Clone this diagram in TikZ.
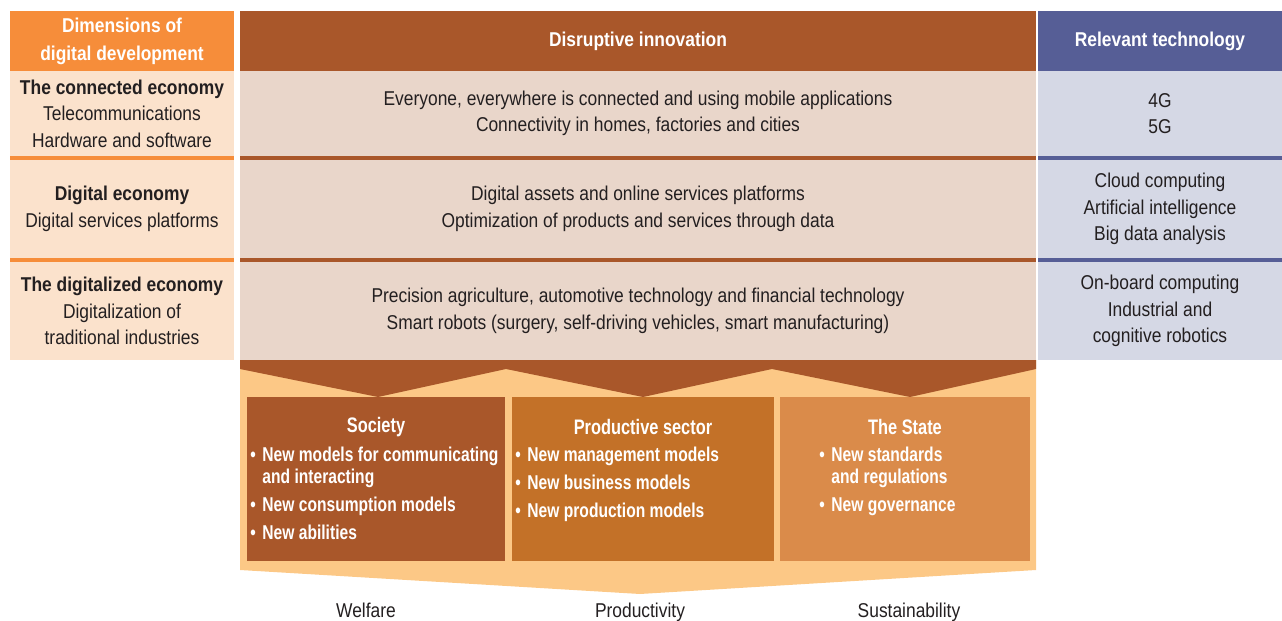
\documentclass[tikz,border=0pt]{standalone}
\usepackage{fontspec}
\setmainfont{Liberation Sans}[FakeStretch=0.87]
\newfontfamily\condfont{Liberation Sans}[FakeStretch=0.78]
\usetikzlibrary{positioning}
\definecolor{dimorange}{HTML}{F68D3A}
\definecolor{dimpale}{HTML}{FBE2CC}
\definecolor{inobrown}{HTML}{A9572A}
\definecolor{inopale}{HTML}{E9D6CA}
\definecolor{techblue}{HTML}{565E96}
\definecolor{techpale}{HTML}{D5D8E5}
\definecolor{prodorange}{HTML}{C37128}
\definecolor{stateorange}{HTML}{DA8B4A}
\definecolor{bandpale}{HTML}{FCC886}
\definecolor{ink}{HTML}{231F20}
\newcommand{\bitem}[1]{\par\hangindent=6pt\hangafter=1\noindent\makebox[6pt][l]{\textbullet}#1}
\newcommand{\tightlist}{\setlength{\parskip}{3pt}\setlength{\spaceskip}{2.2pt plus 1pt minus 0.5pt}}
\tikzset{
	cell/.style={inner sep=0pt, outer sep=0pt, align=center, text=ink, font=\fontsize{10}{13.3}\selectfont},
	headcell/.style={cell, text=white, font=\bfseries\fontsize{10}{14}\selectfont, minimum height=30pt},
	shortrow/.style={cell, minimum height=42.5pt},
	tallrow/.style={cell, minimum height=49pt},
	sector/.style={inner sep=0pt, outer sep=0pt, minimum height=82pt},
	sectitle/.style={inner sep=0pt, text=white, font=\condfont\bfseries\fontsize{10.5}{12}\selectfont},
	seclist/.style={inner sep=0pt, anchor=north west, align=left, text=white, font=\condfont\bfseries\fontsize{10}{11}\selectfont},
	outcome/.style={cell, anchor=base}
}
\begin{document}
\begin{tikzpicture}[x=0.5pt,y=-0.5pt]
	\useasboundingbox (0,0) rectangle (1282,621);

	\node[headcell, fill=dimorange, minimum width=112pt] (dimhd) at (122,41) {Dimensions of\\digital development};
	\node[shortrow, fill=dimpale, minimum width=112pt] (dim1) at (122,113.5) {\textbf{The connected economy}\\Telecommunications\\Hardware and software};
	\node[tallrow, fill=dimpale, minimum width=112pt] (dim2) at (122,209) {\textbf{Digital economy}\\Digital services platforms};
	\node[tallrow, fill=dimpale, minimum width=112pt] (dim3) at (122,311) {\textbf{The digitalized economy}\\Digitalization of\\traditional industries};

	\node[headcell, fill=inobrown, minimum width=398pt] (inohd) at (638,41) {Disruptive innovation};
	\node[shortrow, fill=inopale, minimum width=398pt] (ino1) at (638,113.5) {Everyone, everywhere is connected and using mobile applications\\Connectivity in homes, factories and cities};
	\node[tallrow, fill=inopale, minimum width=398pt] (ino2) at (638,209) {Digital assets and online services platforms\\Optimization of products and services through data};
	\node[tallrow, fill=inopale, minimum width=398pt] (ino3) at (638,311) {Precision agriculture, automotive technology and financial technology\\Smart robots (surgery, self-driving vehicles, smart manufacturing)};

	\node[headcell, fill=techblue, minimum width=122pt] (techhd) at (1160,41) {Relevant technology};
	\node[shortrow, fill=techpale, minimum width=122pt] (tech1) at (1160,113.5) {4G\\5G};
	\node[tallrow, fill=techpale, minimum width=122pt] (tech2) at (1160,209) {Cloud computing\\Artificial intelligence\\Big data analysis};
	\node[tallrow, fill=techpale, minimum width=122pt] (tech3) at (1160,311) {On-board computing\\Industrial and\\cognitive robotics};

	\foreach \c/\col in {dim/dimorange, ino/inobrown, tech/techblue} {
		\fill[\col] (\c1.south west) rectangle (\c2.north east);
		\fill[\col] (\c2.south west) rectangle (\c3.north east);
	}

	\fill[bandpale] (ino3.south west) -- (ino3.south east) -- (1036,570) -- (640,594) -- (240,570) -- cycle;
	\fill[inobrown] (ino3.south west) -- (ino3.south east) -- (1036,369) -- (910,397) -- (772,369) -- (643,397) -- (506,369) -- (378,397) -- (240,369) -- cycle;

	\node[sector, fill=inobrown, minimum width=129pt] (soc) at (376,479) {};
	\node[sector, fill=prodorange, minimum width=131pt] (prod) at (643,479) {};
	\node[sector, fill=stateorange, minimum width=125pt] (state) at (905,479) {};

	\node[sectitle] (soctl) at (376,427) {Society};
	\node[sectitle] (prodtl) at (643,427) {Productive sector};
	\node[sectitle] (statetl) at (905,427) {The State};

	\node[seclist, text width=127pt] (soclist) at (250,433) {\tightlist\bitem{New models for communicating\hfil\break and interacting}\bitem{New consumption models}\bitem{New abilities}};
	\node[seclist, text width=128pt] (prodlist) at (515,433) {\tightlist\bitem{New management models}\bitem{New business models}\bitem{New production models}};
	\node[seclist, text width=100pt] (statelist) at (819,433) {\tightlist\bitem{New standards\hfil\break and regulations}\bitem{New governance}};

	\node[outcome] (welf) at (366,617) {Welfare};
	\node[outcome] (prody) at (640,617) {Productivity};
	\node[outcome] (sust) at (909,617) {Sustainability};
\end{tikzpicture}
\end{document}
